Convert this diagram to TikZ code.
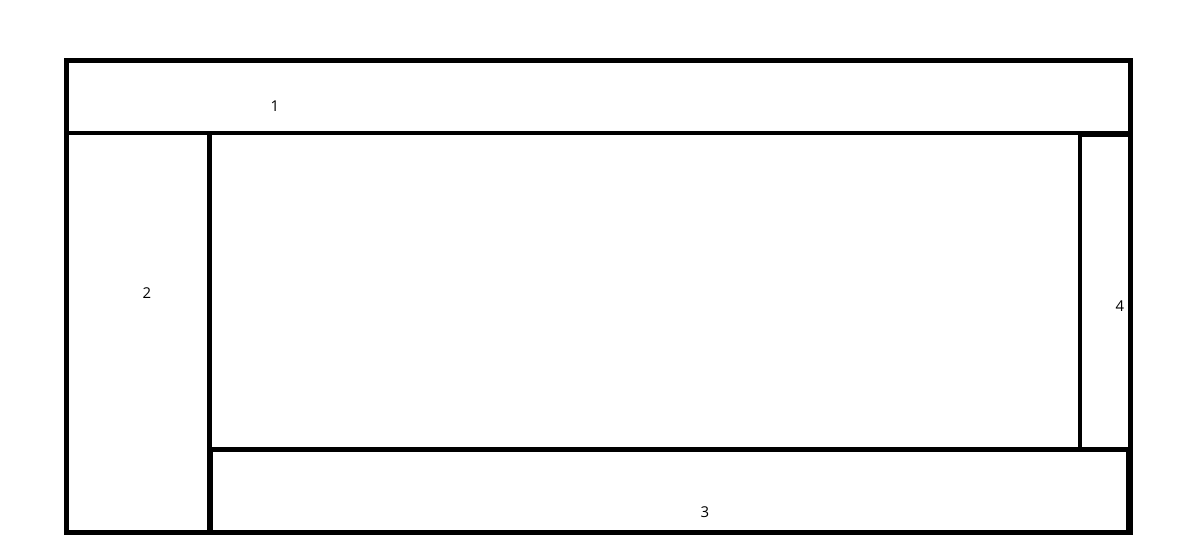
\documentclass[tikz,border=0pt]{standalone}
\usepackage{fontspec}
\setmainfont{Open Sans}
\usetikzlibrary{positioning}
\tikzset{
  pane/.style={draw=black,line width=2.8pt},
  outer/.style={draw=black,line width=3.3pt},
  panelabel/.style={font=\fontsize{8.5}{10}\selectfont,inner sep=0pt}
}
\begin{document}
\begin{tikzpicture}[x=0.02cm,y=-0.02cm]
  \useasboundingbox (0,0) rectangle (1197,557);
  % panes
  \draw[pane] (66.5,60.5) rectangle (1130.5,133);
  \draw[pane] (66.5,133) rectangle (209.5,532.5);
  \draw[pane] (209.5,133) rectangle (1130.5,449.5);
  \draw[pane] (211,449.5) rectangle (1128.5,532.5);
  \draw[pane] (1080,135) rectangle (1130.5,450);
  \draw[outer] (66.5,60.5) rectangle (1130.5,532.5);
  % labels
  \node[panelabel] (l1) at (275,106) {1};
  \node[panelabel] (l2) at (147,293) {2};
  \node[panelabel] (l3) at (705,512) {3};
  \node[panelabel] (l4) at (1120,306) {4};
\end{tikzpicture}
\end{document}
